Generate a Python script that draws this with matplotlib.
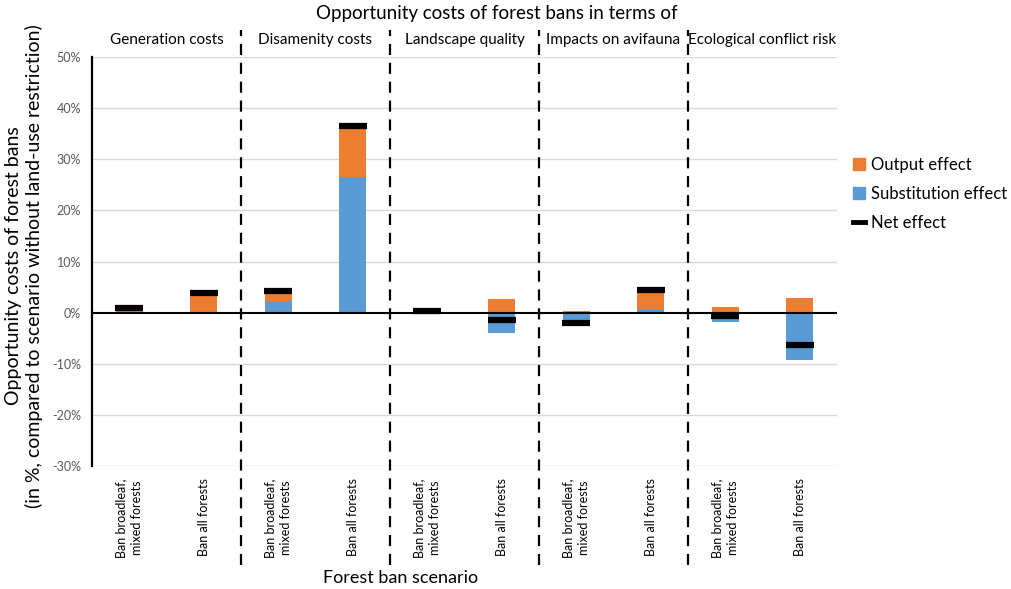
import matplotlib
matplotlib.use('Agg')
import matplotlib.pyplot as plt
from matplotlib.lines import Line2D
from matplotlib.patches import Patch
import numpy as np

# Excel-like palette
orange = '#ED7D31'
blue = '#5B9BD5'
grid_grey = '#D9D9D9'
tick_grey = '#595959'

plt.rcParams['font.family'] = ['Lato', 'DejaVu Sans']

# Data (percent)
groups = ['Generation costs', 'Disamenity costs', 'Landscape quality',
          'Impacts on avifauna', 'Ecological conflict risk']
scenarios = ['Ban broadleaf,\nmixed forests', 'Ban all forests']
output_effect = [0.4, 3.2, 1.4, 9.4, 0.3, 2.7, 0.3, 3.4, 1.1, 2.9]
substitution_effect = [0.0, 0.0, 2.3, 26.6, -0.3, -3.9, -1.4, 0.6, -1.9, -9.3]
net_effect = [0.9, 3.75, 4.2, 36.6, 0.3, -1.4, -2.0, 4.5, -0.7, -6.3]

out = np.array(output_effect)
sub = np.array(substitution_effect)
x = np.arange(len(out))

fig = plt.figure(figsize=(10.12, 5.89), dpi=100)
ax = fig.add_axes([0.0909, 0.2088, 0.827 - 0.0909, 0.9032 - 0.2088])

ax.set_xlim(-0.5, len(x) - 0.5)
ax.set_ylim(-30, 50)
yt = np.arange(-30, 51, 10)
ax.set_yticks(yt)
ax.set_yticklabels([f'{v}%' for v in yt], color=tick_grey, fontsize=9)
for v in yt:
    if v != 0:
        ax.axhline(v, color=grid_grey, lw=1, zorder=0)
ax.axhline(0, color='black', lw=1.5, zorder=3)

# Stacking: substitution at the base, output stacks on the positive side
w = 0.36
ax.bar(x, sub, width=w, color=blue, zorder=2)
out_base = np.where(sub > 0, sub, 0)
ax.bar(x, out, width=w, bottom=out_base, color=orange, zorder=2)
ax.plot(x, net_effect, linestyle='none', marker='_', ms=19.5, mew=4.5,
        color='black', zorder=4)

for s in ['top', 'right', 'bottom']:
    ax.spines[s].set_visible(False)
ax.spines['left'].set_linewidth(1.6)
ax.tick_params(axis='y', length=0, pad=8)
ax.tick_params(axis='x', length=0, pad=9)

ax.set_xticks(x)
ax.set_xticklabels(scenarios * len(groups), rotation=90, fontsize=9,
                   va='top', ha='center', linespacing=1.35)

# Group dividers and headers
for i in range(1, len(groups)):
    ax.axvline(2 * i - 0.5, ymin=-0.242, ymax=1.066, color='black', lw=1.6,
               ls=(0, (5, 3.5)), clip_on=False, zorder=5)
for i, g in enumerate(groups):
    ax.text(2 * i + 0.5, 1.042, g, transform=ax.get_xaxis_transform(),
            ha='center', va='center', fontsize=11)

fig.text(497 / 1012, 1 - 13 / 589, 'Opportunity costs of forest bans in terms of',
         ha='center', va='center', fontsize=13.5)
fig.text(401 / 1012, 1 - 578 / 589, 'Forest ban scenario',
         ha='center', va='center', fontsize=13)
fig.text(24 / 1012, 1 - 266 / 589,
         'Opportunity costs of forest bans\n(in %, compared to scenario without land-use restriction)',
         rotation=90, ha='center', va='center', fontsize=14, linespacing=1.2)

handles = [Patch(color=orange), Patch(color=blue),
           Line2D([], [], color='black', lw=3.5)]
labels = ['Output effect', 'Substitution effect', 'Net effect']
fig.legend(handles, labels, loc='upper left', bbox_to_anchor=(0.836, 0.745),
           frameon=False, fontsize=12, handlelength=0.75, handleheight=0.75,
           handletextpad=0.35, labelspacing=0.78, borderaxespad=0)

fig.savefig('out.png', dpi=100)
